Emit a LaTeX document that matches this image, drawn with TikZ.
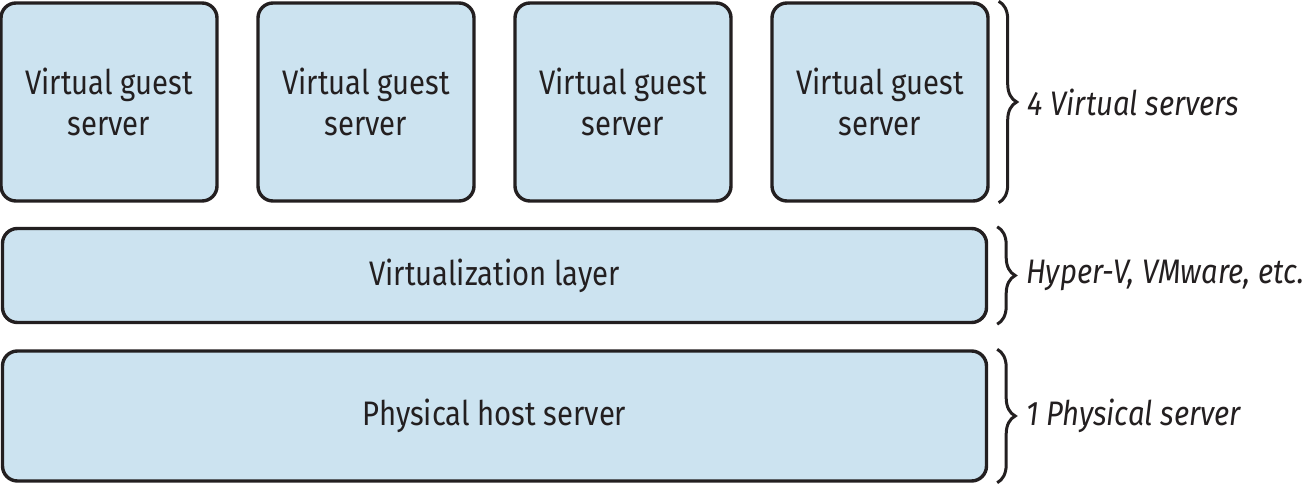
\documentclass[tikz,border=0pt]{standalone}
\usepackage{fontspec}
\setmainfont{Fira Sans}[FakeStretch=0.86]
\usetikzlibrary{decorations.pathreplacing}
\definecolor{boxblue}{HTML}{CCE3F0}
\definecolor{inkblack}{HTML}{231F20}
\tikzset{
  layerbox/.style={draw=inkblack, fill=boxblue, line width=1.7pt, rounded corners=7.5pt,
    inner sep=0pt, align=center, font=\fontsize{17}{20.5}\selectfont, text=inkblack},
  curlybrace/.style={draw=inkblack, line width=1.5pt, decorate,
    decoration={brace, amplitude=9pt, aspect=0.5}},
  bracetext/.style={anchor=west, font=\fontsize{17}{20}\selectfont\itshape, text=inkblack}
}
\begin{document}
\begin{tikzpicture}[x=0.5pt, y=-0.5pt]
                \useasboundingbox (0,0) rectangle (1313,486);
                % Gastservers
                \node[layerbox, minimum width=108pt, minimum height=99pt] (g1) at (109,102) {Virtual guest\\server};
                \node[layerbox, minimum width=108pt, minimum height=99pt] (g2) at (366,102) {Virtual guest\\server};
                \node[layerbox, minimum width=108pt, minimum height=99pt] (g3) at (623,102) {Virtual guest\\server};
                \node[layerbox, minimum width=108pt, minimum height=99pt] (g4) at (880,102) {Virtual guest\\server};
                % Lagen
                \node[layerbox, minimum width=492pt, minimum height=47pt] (virt) at (494.5,275.5) {Virtualization layer};
                \node[layerbox, minimum width=492pt, minimum height=65pt] (host) at (494.5,416) {Physical host server};
                % Accolades
                \draw[curlybrace] ([xshift=4.5pt]g4.north east) -- ([xshift=4.5pt]g4.south east)
                    node[midway, xshift=11pt] (b1) {};
                \draw[curlybrace] ([xshift=4.5pt]virt.north east) -- ([xshift=4.5pt]virt.south east)
                    node[midway, xshift=11pt] (b2) {};
                \draw[curlybrace] ([xshift=4.5pt]host.north east) -- ([xshift=4.5pt]host.south east)
                    node[midway, xshift=11pt] (b3) {};
                \node[bracetext] (t1) at (b1.center) {4 Virtual servers};
                \node[bracetext] (t2) at (b2.center) {Hyper-V, VMware, etc.};
                \node[bracetext] (t3) at (b3.center) {1 Physical server};
\end{tikzpicture}
\end{document}
